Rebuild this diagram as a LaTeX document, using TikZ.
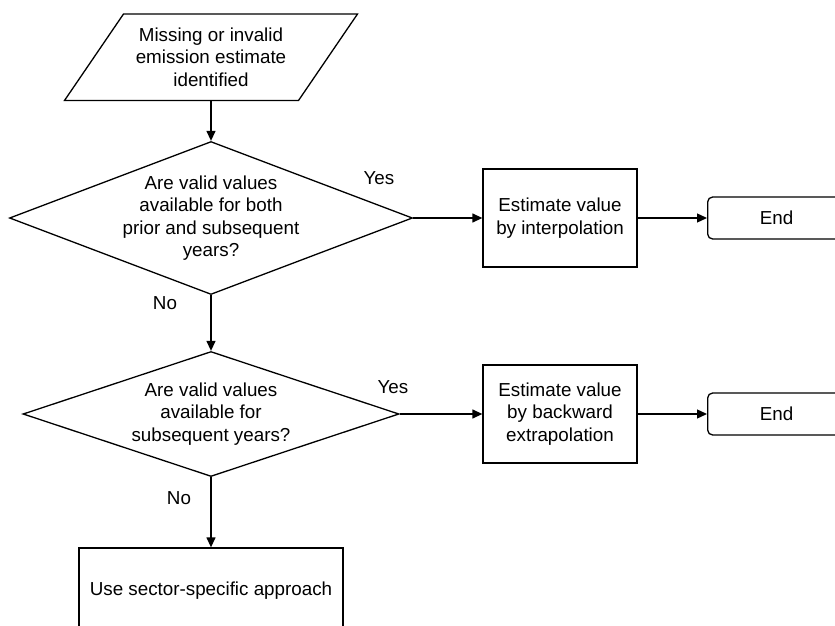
\documentclass[tikz,border=0pt]{standalone}
\usepackage{fontspec}
\setmainfont{Liberation Sans}
\usetikzlibrary{shapes.geometric,arrows.meta}
\begin{document}
\begin{tikzpicture}[x=1pt,y=-1pt,
  line width=1.3pt,
  every node/.style={font=\fontsize{18.8}{22.5}\selectfont},
  arr/.style={-{Triangle[length=10pt,width=9pt]}},
  proc/.style={draw, rectangle, minimum width=154pt, minimum height=98pt, align=center, inner sep=0pt},
  dia/.style={draw, diamond, inner sep=0pt},
  term/.style={draw, rectangle, rounded corners=5pt, minimum width=138pt, minimum height=42pt, anchor=west, inner sep=0pt},
  lbl/.style={inner sep=0pt}
]
\useasboundingbox (0,0) rectangle (835,626);
\clip (0,0) rectangle (835,626);

% input parallelogram
\draw (123.5,14) -- (357.5,14) -- (298.5,100.5) -- (64.5,100.5) -- cycle;
\node[align=center, minimum height=86.5pt, inner sep=0pt] (inp) at (211,57.25)
  {Missing or invalid\\emission estimate\\identified};

% decisions
\node[dia, minimum width=403pt, minimum height=153pt,
  label={[align=center, inner sep=0pt]center:Are valid values\\available for both\\prior and subsequent\\years?}] (d1) at (211,218) {};
\node[dia, minimum width=376pt, minimum height=125pt,
  label={[align=center, inner sep=0pt]center:Are valid values\\available for\\subsequent years?}] (d2) at (211,414) {};

% processes
\node[proc] (b1) at (560,218) {Estimate value\\by interpolation};
\node[proc] (b2) at (560,414) {Estimate value\\by backward\\extrapolation};

% terminals
\node[term] (e1) at (707,218) {End};
\node[term] (e2) at (707,414) {End};

% bottom process
\node[draw, rectangle, minimum width=264pt, minimum height=86pt, inner sep=0pt] (use) at (211,591) {Use sector-specific approach};

% connectors
\draw[arr] (inp.south) -- (d1.north);
\draw[arr] (d1.east) -- (b1.west);
\draw[arr] (b1.east) -- (e1.west);
\draw[arr] (d1.south) -- (d2.north);
\draw[arr] (d2.east) -- (b2.west);
\draw[arr] (b2.east) -- (e2.west);
\draw[arr] (d2.south) -- (use.north);

% labels
\node[lbl] (y1) at (379,178) {Yes};
\node[lbl] (n1) at (165,303) {No};
\node[lbl] (y2) at (393,387) {Yes};
\node[lbl] (n2) at (179,498) {No};
\end{tikzpicture}
\end{document}
